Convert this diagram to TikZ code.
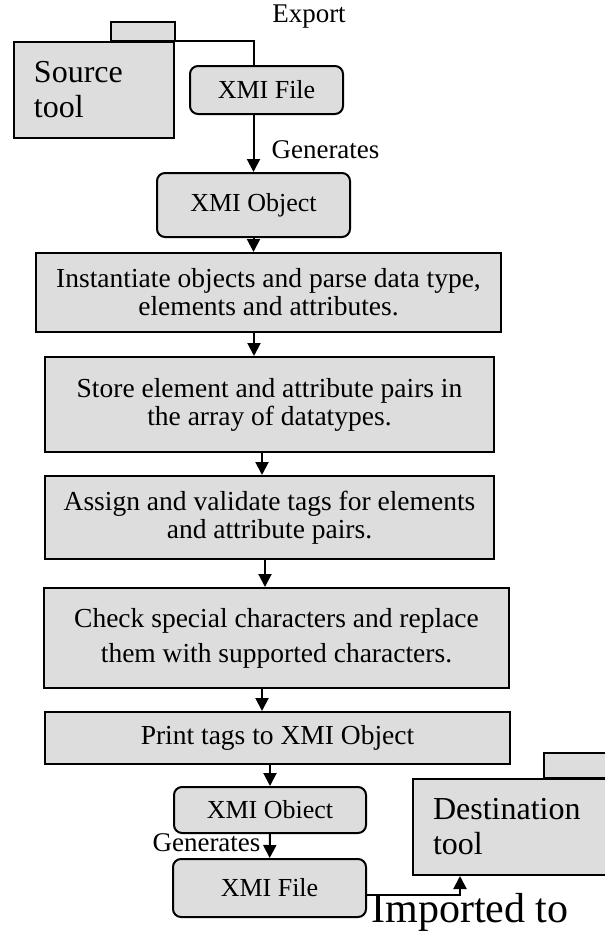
\documentclass[tikz,border=0pt]{standalone}
\usepackage{fontspec}
\setmainfont{Liberation Serif}
\usetikzlibrary{positioning, arrows.meta, calc}
\definecolor{boxgray}{RGB}{221, 221, 221}

\begin{document}
\begin{tikzpicture}[
    x=1pt, y=-1pt, % one unit = one pixel of the page, y runs downwards
    >={Triangle[length=13pt, width=13pt]}, % Arrow tip style
    stepbox/.style={ % Style for the square process boxes
        rectangle,
        draw=black,
        line width=2pt,
        fill=boxgray,
        align=center,
        inner sep=0pt,
        font=\fontsize{27.5}{28}\selectfont
    },
    % Rounded boxes for the XMI files and objects
    filebox/.style={stepbox, rounded corners=8pt, font=\fontsize{26}{28}\selectfont},
    % Folder shaped tool boxes (the tab is drawn separately)
    toolbox/.style={
        stepbox,
        align=left,
        inner xsep=20pt,
        font=\fontsize{32}{35}\selectfont
    },
    % Arrow style
    arrow/.style={->, line width=2pt},
    line/.style={line width=2pt},
    % Style for labels on the connectors
    label_text/.style={font=\fontsize{27}{30}\selectfont, inner sep=0pt}
]
\useasboundingbox (0,0) rectangle (605,932);
\clip (0,0) rectangle (605,932);

% Source tool
\node[toolbox, minimum width=160, minimum height=96, text width=120] (source) at (94,90) {Source\\tool};
\draw[line, fill=boxgray] (source.north east) rectangle ++(-64,-19);

% Exported file and object
\node[filebox, minimum width=153, minimum height=48] (xmifile) at (266.5,90) {XMI File};
\node[filebox, minimum width=193, minimum height=64] (xmiobj) at (253.5,205) {XMI Object};

% Process steps
\node[stepbox, minimum width=465, minimum height=79] (instantiate) at (268.5,292.5)
    {Instantiate objects and parse data type,\\elements and attributes.};
\node[stepbox, minimum width=449, minimum height=95] (store) at (269.5,404.5)
    {Store element and attribute pairs in\\the array of datatypes.};
\node[stepbox, minimum width=449, minimum height=83] (assign) at (269.5,517.5)
    {Assign and validate tags for elements\\and attribute pairs.};
\node[stepbox, minimum width=465, minimum height=100, font=\fontsize{27.5}{35}\selectfont] (check) at (276.5,638)
    {Check special characters and replace\\them with supported characters.};
\node[stepbox, minimum width=465, minimum height=52] (print) at (277.5,738) {Print tags to XMI Object};

% Generated object and file
\node[filebox, minimum width=192, minimum height=46] (xmiobj2) at (270,810) {XMI Obiect};
\node[filebox, minimum width=193, minimum height=58] (xmifile2) at (269.5,888) {XMI File};

% Destination tool
\node[toolbox, minimum width=194, minimum height=96, text width=154] (dest) at (510,827) {Destination\\tool};
\draw[line, fill=boxgray] (dest.north east) rectangle ++(-64,-25);

% Connectors
\draw[line] (source.north east) -| ($(xmifile.north)+(-12.5,0)$);
\draw[arrow] (xmifile.south -| xmiobj) -- (xmiobj);
\draw[arrow] (xmiobj) -- (xmiobj |- instantiate.north);
\draw[arrow] ($(instantiate.south)+(-14.5,0)$) -- ($(store.north)+(-15.5,0)$);
\draw[arrow] ($(store.south)+(-7.5,0)$) -- ($(assign.north)+(-7.5,0)$);
\draw[arrow] ($(assign.south)+(-4.5,0)$) -- ($(check.north)+(-11.5,0)$);
\draw[arrow] ($(check.south)+(-14.5,0)$) -- ($(print.north)+(-15.5,0)$);
\draw[arrow] (print.south -| xmiobj2) -- (xmiobj2);
\draw[arrow] (xmiobj2) -- (xmifile2);
\draw[arrow] ($(xmifile2.east)+(0,7)$) -| ($(dest.south)+(-50,0)$);

% Connector labels
\node[label_text] (export) at (309,17) {Export};
\node[label_text] (gen1) at (325.5,150) {Generates};
\node[label_text] (gen2) at (206.5,843) {Generates};
\node[label_text, font=\fontsize{42}{46}\selectfont] (imported) at (470,912) {Imported to};

\end{tikzpicture}
\end{document}
